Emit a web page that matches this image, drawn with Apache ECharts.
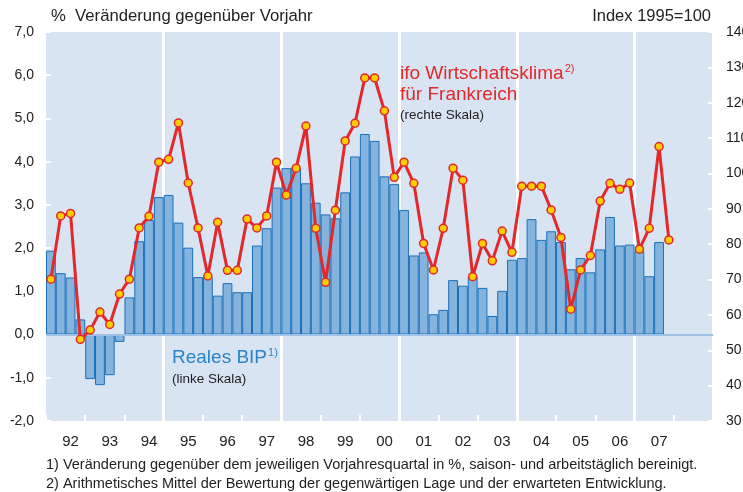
<!DOCTYPE html>
<html>
<head>
<meta charset="utf-8">
<script src="https://cdn.jsdelivr.net/npm/echarts@6/dist/echarts.min.js"></script>
<style>
  html, body { margin: 0; padding: 0; background: #fff; }
  #chart { width: 743px; height: 492px; }
</style>
</head>
<body>
<div id="chart"></div>
<script>
// Jahre (Achsenbeschriftung), 2008 ohne Beschriftung
var years = ['92', '93', '94', '95', '96', '97', '98', '99', '00', '01', '02', '03', '04', '05', '06', '07', ''];

// Reales BIP, Veränderung gegenüber Vorjahresquartal in % (92Q1 - 07Q3)
var bip = [
    1.94, 1.42, 1.32, 0.35,
    -1.03, -1.17, -0.94, -0.17,
    0.86, 2.16, 2.65, 3.18,
    3.23, 2.59, 2.01, 1.33,
    1.33, 0.90, 1.19, 0.98,
    0.98, 2.06, 2.46, 3.40,
    3.85, 3.86, 3.50, 3.05,
    2.78, 2.69, 3.29, 4.12,
    4.64, 4.48, 3.66, 3.48,
    2.88, 1.83, 1.90, 0.47,
    0.57, 1.26, 1.13, 1.34,
    1.08, 0.43, 1.01, 1.73,
    1.77, 2.67, 2.19, 2.39,
    2.14, 1.51, 1.77, 1.44,
    1.97, 2.72, 2.06, 2.08,
    1.93, 1.35, 2.14
];

// ifo Wirtschaftsklima für Frankreich, Index 1995=100 (92Q1 - 07Q4)
var ifo = [
    70.1, 88.0, 88.7, 53.1,
    55.7, 60.8, 57.3, 65.9,
    70.1, 84.6, 87.9, 103.2,
    104.0, 114.3, 97.3, 84.6,
    71.0, 86.2, 72.6, 72.6,
    87.1, 84.6, 88.0, 103.2,
    93.9, 101.5, 113.4, 84.5,
    69.2, 89.6, 109.2, 114.2,
    127.0, 127.0, 117.7, 98.9,
    103.2, 97.2, 80.2, 72.7,
    84.5, 101.5, 98.1, 70.8,
    80.2, 75.3, 83.7, 77.7,
    96.4, 96.4, 96.4, 89.7,
    81.9, 61.6, 72.7, 76.8,
    92.2, 97.2, 95.5, 97.3,
    78.6, 84.5, 107.6, 81.2
];

// Quartale als Kategorien
var quarters = [];
for (var y = 0; y < years.length; y++) {
    for (var q = 1; q <= 4; q++) {
        quarters.push((1992 + y) + 'Q' + q);
    }
}

var FONT = '"Liberation Sans", Arial, sans-serif';
var BG = '#d9e4f3';

var chart = echarts.init(document.getElementById('chart'));

var option = {
    animation: false,
    textStyle: { fontFamily: FONT },
    grid: {
        left: 46, right: 30, top: 32, bottom: 71,
        outerBoundsMode: 'none',
        containLabel: false,
        show: true, backgroundColor: BG, borderWidth: 0
    },
    xAxis: [
        {
            // Quartalsachse für die Daten
            type: 'category',
            data: quarters,
            boundaryGap: true,
            show: false
        },
        {
            // Jahresachse für Beschriftung und Trennlinien
            type: 'category',
            data: years,
            position: 'bottom',
            boundaryGap: true,
            axisLine: { show: false },
            axisTick: {
                show: true, inside: true, length: 6, interval: 0,
                lineStyle: { color: '#ffffff', width: 2 }
            },
            axisLabel: {
                interval: 0, margin: 13, padding: [0, 0, 0, 10],
                fontSize: 15, color: '#222', fontFamily: FONT
            },
            splitLine: {
                show: true,
                interval: function (index) { return index > 0 && index % 3 === 0; },
                lineStyle: { color: '#ffffff', width: 3 }
            }
        }
    ],
    yAxis: [
        {
            type: 'value',
            min: -2, max: 7, interval: 1,
            axisLine: { show: false },
            axisTick: { show: true, inside: true, length: 5, lineStyle: { color: '#ffffff', width: 2 } },
            splitLine: { show: false },
            axisLabel: {
                margin: 12, fontSize: 14, color: '#222', fontFamily: FONT,
                formatter: function (v) { return v.toFixed(1).replace('.', ','); }
            }
        },
        {
            type: 'value',
            min: 30, max: 140, interval: 10,
            axisLine: { show: false },
            axisTick: { show: true, inside: true, length: 5, lineStyle: { color: '#ffffff', width: 2 } },
            splitLine: { show: false },
            axisLabel: { margin: 13, fontSize: 14, color: '#222', fontFamily: FONT }
        }
    ],
    series: [
        {
            name: 'Reales BIP',
            type: 'bar',
            xAxisIndex: 0,
            yAxisIndex: 0,
            data: bip,
            barCategoryGap: 0,
            itemStyle: { color: '#84b3de', borderColor: '#1a70b9', borderWidth: 1 },
            markLine: {
                silent: true,
                symbol: 'none',
                label: { show: false },
                lineStyle: { color: '#9fc1e6', width: 2, type: 'solid' },
                data: [{ yAxis: 0 }]
            }
        },
        {
            name: 'ifo Wirtschaftsklima',
            type: 'line',
            xAxisIndex: 0,
            yAxisIndex: 1,
            data: ifo,
            symbol: 'circle',
            symbolSize: 8,
            showAllSymbol: true,
            lineStyle: { color: '#e3282b', width: 3 },
            itemStyle: { color: '#ffcc00', borderColor: '#e3282b', borderWidth: 1.5 },
            z: 5
        }
    ],
    graphic: [
        {
            type: 'text', left: 51, top: 8, z: 10,
            style: { text: '%  Veränderung gegenüber Vorjahr', font: '16.7px ' + FONT, fill: '#222' }
        },
        {
            type: 'text', right: 32, top: 8, z: 10,
            style: { text: 'Index 1995=100', font: '16.5px ' + FONT, fill: '#222' }
        },
        {
            // Hintergrund hinter der Beschriftung (unterbricht die Trennlinie)
            type: 'rect', shape: { x: 397, y: 57, width: 3, height: 76 },
            style: { fill: BG }, z: 0
        },
        {
            type: 'text', left: 400, top: 63, z: 10,
            style: {
                text: '{a|ifo Wirtschaftsklima}{s|2)}\n{a|für Frankreich}',
                rich: {
                    a: { fontSize: 19, fill: '#e3282b', fontFamily: FONT, lineHeight: 21 },
                    s: { fontSize: 11, fill: '#e3282b', fontFamily: FONT, verticalAlign: 'top', lineHeight: 21, padding: [0, 0, 8, 1] }
                }
            }
        },
        {
            type: 'text', left: 400, top: 108, z: 10,
            style: { text: '(rechte Skala)', font: '13.5px ' + FONT, fill: '#222' }
        },
        {
            type: 'text', left: 172, top: 347, z: 10,
            style: {
                text: '{a|Reales BIP}{s|1)}',
                rich: {
                    a: { fontSize: 19, fill: '#2a84c6', fontFamily: FONT, lineHeight: 21 },
                    s: { fontSize: 11, fill: '#2a84c6', fontFamily: FONT, verticalAlign: 'top', lineHeight: 21, padding: [0, 0, 8, 1] }
                }
            }
        },
        {
            type: 'text', left: 172, top: 372, z: 10,
            style: { text: '(linke Skala)', font: '13.5px ' + FONT, fill: '#222' }
        },
        {
            type: 'text', left: 46, top: 457, z: 10,
            style: { text: '1) Veränderung gegenüber dem jeweiligen Vorjahresquartal in %, saison- und arbeitstäglich bereinigt.', font: '14.5px ' + FONT, fill: '#222' }
        },
        {
            type: 'text', left: 46, top: 476, z: 10,
            style: { text: '2) Arithmetisches Mittel der Bewertung der gegenwärtigen Lage und der erwarteten Entwicklung.', font: '14.5px ' + FONT, fill: '#222' }
        }
    ]
};

chart.setOption(option);
</script>
</body>
</html>
